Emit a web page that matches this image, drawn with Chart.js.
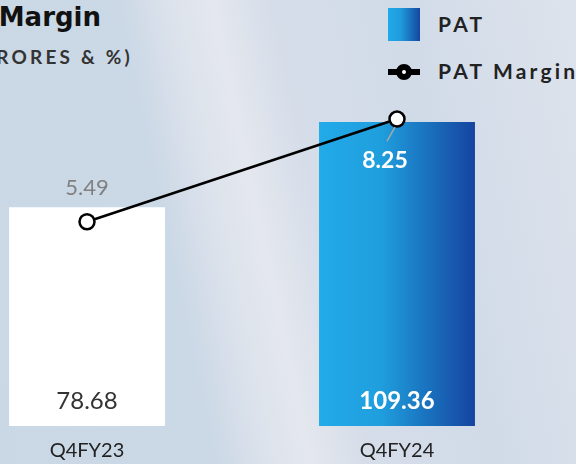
<!DOCTYPE html>
<html>
<head>
<meta charset="utf-8">
<script src="https://cdn.jsdelivr.net/npm/chart.js@4.4.1/dist/chart.umd.min.js"></script>
<style>
  html, body {
    margin: 0;
    padding: 0;
    width: 576px;
    height: 464px;
    overflow: hidden;
  }
  body {
    position: relative;
    background: linear-gradient(78deg, #cad7e5 0%, #cbd8e6 32%, #dde3ec 40%, #e4e7ee 46%, #d5dde9 55%, #d1dbe8 74%, #dde3ec 100%);
  }
  .title {
    position: absolute;
    right: 475px;
    top: 2px;
    white-space: nowrap;
    font: bold 26px "DejaVu Sans", sans-serif;
    color: #111;
  }
  .subtitle {
    position: absolute;
    right: 443px;
    top: 45px;
    white-space: nowrap;
    font: bold 19px Lato, sans-serif;
    letter-spacing: 3.2px;
    color: #333;
  }
  .legend {
    position: absolute;
    left: 388px;
    top: 8px;
    font: bold 21px Lato, sans-serif;
    letter-spacing: 3.2px;
    color: #222;
    white-space: nowrap;
  }
  .legend .row {
    position: relative;
    height: 33px;
    margin-bottom: 14px;
  }
  .legend .swatch {
    position: absolute;
    left: 0;
    top: 0;
    width: 32px;
    height: 33px;
    background: linear-gradient(90deg, #20aae9 0%, #1f9bdc 40%, #1446a0 100%);
  }
  .legend .line {
    position: absolute;
    left: 0;
    top: 14px;
    width: 32px;
    height: 6px;
    background: #000;
  }
  .legend .dot {
    position: absolute;
    left: 8px;
    top: 9px;
    width: 4px;
    height: 4px;
    border: 6px solid #000;
    border-radius: 50%;
    background: #fff;
  }
  .legend .label {
    position: absolute;
    left: 50px;
    top: 3px;
  }
  #wrap {
    position: absolute;
    left: -68px;
    top: 0;
    width: 644px;
    height: 464px;
  }
</style>
</head>
<body>
<div class="title">PAT &amp; PAT Margin</div>
<div class="subtitle">(IN ₹ CRORES &amp; %)</div>
<div class="legend">
  <div class="row"><div class="swatch"></div><div class="label">PAT</div></div>
  <div class="row"><div class="line"></div><div class="dot"></div><div class="label">PAT Margin</div></div>
</div>
<div id="wrap"><canvas id="chart" width="644" height="464"></canvas></div>
<script>
const quarters = ['Q4FY23', 'Q4FY24'];
const patValues = [78.68, 109.36];
const marginValues = [5.49, 8.25];

const ctx = document.getElementById('chart').getContext('2d');

function barColor(context) {
  const chart = context.chart;
  if (context.dataIndex === 0) {
    return '#ffffff';
  }
  if (!chart.chartArea) {
    return '#1f9bdc';
  }
  const x = chart.scales.x.getPixelForValue(context.dataIndex);
  const half = chart.scales.x.width / quarters.length * 0.503 / 2;
  const g = chart.ctx.createLinearGradient(x - half, 0, x + half, 0);
  g.addColorStop(0, '#22aae9');
  g.addColorStop(0.4, '#1f9edd');
  g.addColorStop(1, '#1544a0');
  return g;
}

const valueLabels = {
  id: 'valueLabels',
  afterDatasetsDraw(chart) {
    const c = chart.ctx;
    const barMeta = chart.getDatasetMeta(0);
    const lineMeta = chart.getDatasetMeta(1);
    c.save();
    c.textAlign = 'center';
    c.textBaseline = 'middle';

    barMeta.data.forEach(function(bar, i) {
      c.font = (i === 0 ? '' : 'bold ') + '24px Lato';
      c.fillStyle = i === 0 ? '#333333' : '#ffffff';
      c.fillText(patValues[i].toFixed(2), bar.x, chart.chartArea.bottom - 25);
    });

    lineMeta.data.forEach(function(pt, i) {
      if (i === 0) {
        c.font = '22px Lato';
        c.fillStyle = '#808080';
        c.fillText(marginValues[i].toFixed(2), pt.x, pt.y - 34);
      } else {
        c.strokeStyle = '#a8a8a8';
        c.lineWidth = 1.5;
        c.beginPath();
        c.moveTo(pt.x - 2, pt.y + 8);
        c.lineTo(pt.x - 10, pt.y + 22);
        c.stroke();
        c.font = 'bold 23px Lato';
        c.fillStyle = '#ffffff';
        c.fillText(marginValues[i].toFixed(2), pt.x - 12, pt.y + 42);
      }
    });
    c.restore();
  }
};

new Chart(ctx, {
  data: {
    labels: quarters,
    datasets: [{
      type: 'bar',
      label: 'PAT',
      data: patValues,
      backgroundColor: barColor,
      borderWidth: 0,
      categoryPercentage: 1,
      barPercentage: 0.503,
      yAxisID: 'y',
      order: 1
    }, {
      type: 'line',
      label: 'PAT Margin',
      data: marginValues,
      borderColor: '#000000',
      borderWidth: 2.5,
      pointRadius: 7.5,
      pointBorderWidth: 2.5,
      pointBackgroundColor: '#ffffff',
      pointBorderColor: '#000000',
      yAxisID: 'y2',
      order: 0
    }]
  },
  options: {
    responsive: false,
    animation: false,
    layout: {
      autoPadding: false,
      padding: { left: 0, right: 24, top: 0, bottom: 0 }
    },
    plugins: {
      legend: { display: false },
      tooltip: { enabled: false }
    },
    scales: {
      x: {
        grid: { display: false, drawTicks: false },
        border: { display: false },
        ticks: {
          color: '#222222',
          font: { family: 'Lato', size: 20 },
          padding: 13
        },
        afterFit: function(axis) {
          axis.height = 38;
        }
      },
      y: {
        display: false,
        min: 0,
        max: 153.25
      },
      y2: {
        display: false,
        min: 0,
        max: 11.45
      }
    }
  },
  plugins: [valueLabels]
});
</script>
</body>
</html>
